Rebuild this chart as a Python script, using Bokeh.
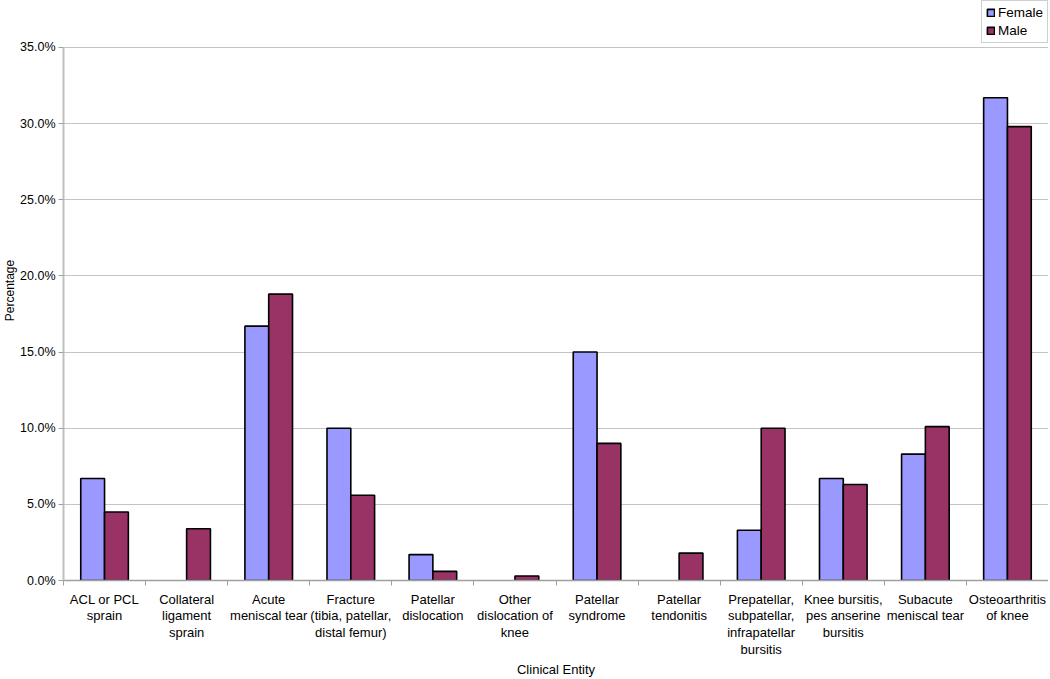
from bokeh.plotting import figure
from bokeh.models import (ColumnDataSource, FixedTicker, PrintfTickFormatter, Range1d,
                          Legend, LegendItem)
from bokeh.embed import file_html
from bokeh.resources import INLINE

nan = float("nan")
categories = [
    "ACL or PCL\nsprain",
    "Collateral\nligament\nsprain",
    "Acute\nmeniscal tear",
    "Fracture\n(tibia, patellar,\ndistal femur)",
    "Patellar\ndislocation",
    "Other\ndislocation of\nknee",
    "Patellar\nsyndrome",
    "Patellar\ntendonitis",
    "Prepatellar,\nsubpatellar,\ninfrapatellar\nbursitis",
    "Knee bursitis,\npes anserine\nbursitis",
    "Subacute\nmeniscal tear",
    "Osteoarthritis\nof knee",
]
female = [6.7, nan, 16.7, 10.0, 1.7, nan, 15.0, nan, 3.3, 6.7, 8.3, 31.7]
male = [4.5, 3.4, 18.8, 5.6, 0.6, 0.3, 9.0, 1.8, 10.0, 6.3, 10.1, 29.8]
y_ticks = [0, 5, 10, 15, 20, 25, 30, 35]

FONT = "Liberation Sans"
n = len(categories)
centers = [i + 0.5 for i in range(n)]
bw = 0.29
y_max = y_ticks[-1]
# frame spans the whole top so the legend can sit above the 35% line
y_end = y_max * 581.0 / 534.0

src_f = ColumnDataSource(dict(x=[c - bw / 2 for c in centers], top=female))
src_m = ColumnDataSource(dict(x=[c + bw / 2 for c in centers], top=male))

p = figure(width=1048, height=679, output_backend="svg", toolbar_location=None,
           x_range=Range1d(0, n), y_range=Range1d(0, y_end),
           min_border_left=63, min_border_right=0, min_border_top=0, min_border_bottom=98)
p.outline_line_color = None

rf = p.vbar(x="x", top="top", width=bw, bottom=0, source=src_f,
            fill_color="#9999FF", line_color="black", line_width=1.6)
rm = p.vbar(x="x", top="top", width=bw, bottom=0, source=src_m,
            fill_color="#993366", line_color="black", line_width=1.6)

# x axis
p.xaxis.ticker = FixedTicker(ticks=centers, minor_ticks=list(range(n + 1)))
p.xaxis.major_label_overrides = {c: lab for c, lab in zip(centers, categories)}
p.xaxis.major_tick_line_color = None
p.xaxis.major_tick_out = 5
p.xaxis.minor_tick_line_color = "#a0a0a0"
p.xaxis.minor_tick_out = 5
p.xaxis.minor_tick_in = 0
p.xaxis.axis_line_color = "#a0a0a0"
p.xaxis.axis_line_width = 1.5
p.xaxis.major_label_text_font = FONT
p.xaxis.major_label_text_font_size = "13px"
p.xaxis.major_label_text_color = "black"
p.xaxis.major_label_text_line_height = 1.12
p.xaxis.major_label_standoff = 6
p.xaxis.axis_label = "Clinical Entity"
p.xaxis.axis_label_text_font = FONT
p.xaxis.axis_label_text_font_style = "normal"
p.xaxis.axis_label_text_font_size = "13px"
p.xaxis.axis_label_text_color = "black"
p.xaxis.axis_label_standoff = 2

# y axis
p.yaxis.ticker = FixedTicker(ticks=y_ticks, minor_ticks=[])
p.yaxis.bounds = (0, y_max)
p.yaxis.formatter = PrintfTickFormatter(format="%.1f%%")
p.yaxis.major_tick_line_color = "#a0a0a0"
p.yaxis.major_tick_out = 5
p.yaxis.major_tick_in = 0
p.yaxis.minor_tick_line_color = None
p.yaxis.axis_line_color = "#c0c0c0"
p.yaxis.axis_line_width = 2
p.yaxis.major_label_text_font = FONT
p.yaxis.major_label_text_font_size = "12.5px"
p.yaxis.major_label_text_color = "black"
p.yaxis.major_label_standoff = 3
p.yaxis.axis_label = "Percentage"
p.yaxis.axis_label_text_font = FONT
p.yaxis.axis_label_text_font_style = "normal"
p.yaxis.axis_label_text_font_size = "12px"
p.yaxis.axis_label_text_color = "black"
p.yaxis.axis_label_standoff = 0

p.xgrid.grid_line_color = None
p.ygrid.ticker = FixedTicker(ticks=y_ticks)
p.ygrid.grid_line_color = "#c4c4c4"
p.ygrid.grid_line_width = 1

legend = Legend(items=[LegendItem(label="Female", renderers=[rf]),
                       LegendItem(label="Male", renderers=[rm])],
                location="top_right", orientation="vertical")
legend.label_text_font = FONT
legend.label_text_font_size = "13.5px"
legend.label_text_color = "black"
legend.glyph_width = 9
legend.glyph_height = 9
legend.label_standoff = 3
legend.spacing = 3
legend.padding = 4
legend.margin = 0
legend.border_line_color = "#a0a0a0"
legend.label_height = 14
p.add_layout(legend, "center")

open("out.html", "w").write(file_html(p, INLINE))
